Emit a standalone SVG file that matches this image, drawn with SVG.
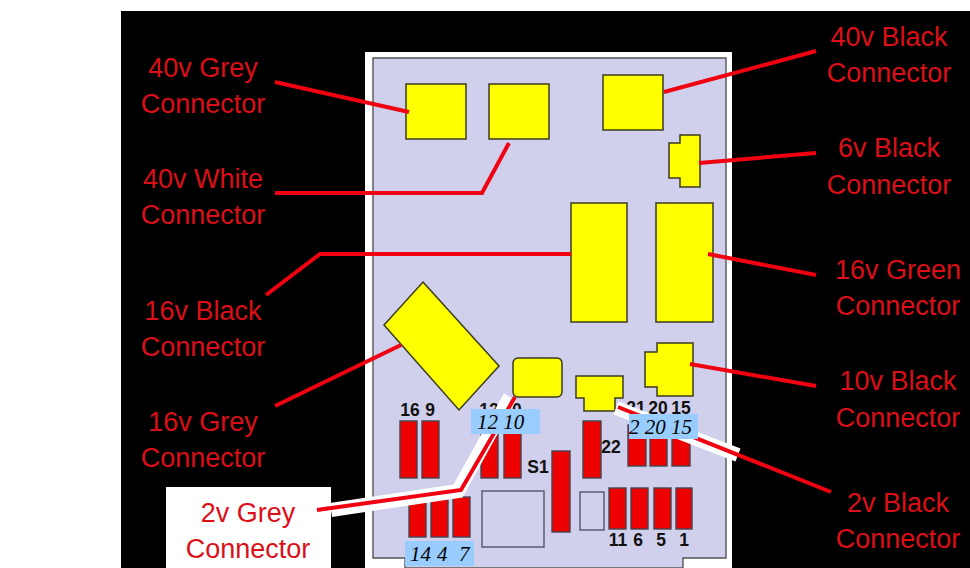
<svg xmlns="http://www.w3.org/2000/svg" width="970" height="568" viewBox="0 0 970 568">
<style>
.lbl{font:27px "Liberation Sans",Arial,sans-serif;fill:#dc0f18;text-anchor:middle}
.yel{fill:#ffff00;stroke:#3a3a20;stroke-width:1.5}
.pin{fill:#ee0000;stroke:#44444e;stroke-width:1.4}
.num{font:bold 17.5px "Liberation Sans",Arial,sans-serif;fill:#111;text-anchor:middle}
.it{font:italic 21px "Liberation Serif","Times New Roman",serif;fill:#000}
.box{fill:#99ccff}
.out{fill:none;stroke:#555566;stroke-width:1.4}
.red{fill:none;stroke:#f00010;stroke-width:4;stroke-linejoin:miter}
.halo{fill:none;stroke:#fff;stroke-width:14}
</style>
<rect width="970" height="568" fill="#fff"/>
<rect x="121" y="11" width="849" height="557" fill="#000"/>
<g id="board">
<rect x="365" y="52" width="367" height="516" fill="#fff"/>
<path d="M373 58H726V558H683V568H405V558H373Z" fill="#d0d0ec" stroke="#555" stroke-width="1.4"/>
<rect class="out" x="482" y="491" width="62" height="56"/>
<rect class="out" x="580" y="492" width="24" height="38"/>
</g>
<g id="pins">
<rect class="pin" x="400" y="421" width="17" height="57"/>
<rect class="pin" x="422" y="421" width="17" height="57"/>
<rect class="pin" x="481" y="421" width="17" height="57"/>
<rect class="pin" x="504" y="421" width="17" height="57"/>
<rect class="pin" x="583" y="421" width="18" height="57"/>
<rect class="pin" x="552" y="451" width="18" height="81"/>
<rect class="pin" x="628" y="425" width="18" height="41"/>
<rect class="pin" x="650" y="425" width="17" height="41"/>
<rect class="pin" x="672" y="425" width="18" height="41"/>
<rect class="pin" x="609" y="488" width="17" height="41"/>
<rect class="pin" x="631" y="488" width="17" height="41"/>
<rect class="pin" x="654" y="488" width="17" height="41"/>
<rect class="pin" x="676" y="488" width="16" height="41"/>
<rect class="pin" x="409" y="497" width="17" height="40"/>
<rect class="pin" x="431" y="497" width="17" height="40"/>
<rect class="pin" x="453" y="497" width="17" height="40"/>
</g>
<g id="pin-numbers">
<text class="num" x="410" y="416">16</text>
<text class="num" x="430" y="416">9</text>
<text class="num" x="489" y="416">12</text>
<text class="num" x="512" y="416">10</text>
<text class="num" x="611" y="453">22</text>
<text class="num" x="538" y="473">S1</text>
<text class="num" x="636" y="414">21</text>
<text class="num" x="658" y="414">20</text>
<text class="num" x="681" y="414">15</text>
<text class="num" x="618" y="546">11</text>
<text class="num" x="638" y="546">6</text>
<text class="num" x="661" y="546">5</text>
<text class="num" x="684" y="546">1</text>
</g>
<g id="conn-40v-grey"><rect class="yel" x="406" y="84" width="60" height="55"/></g>
<g id="conn-40v-white"><rect class="yel" x="489" y="84" width="60" height="55"/></g>
<g id="conn-40v-black"><rect class="yel" x="603" y="75" width="60" height="55"/></g>
<g id="conn-6v-black"><polygon class="yel" points="680,135 700,135 700,187 680,187 680,178 669,178 669,143 680,143"/></g>
<g id="conn-16v-black"><rect class="yel" x="571" y="203" width="56" height="119"/></g>
<g id="conn-16v-green"><rect class="yel" x="656" y="203" width="57" height="119"/></g>
<g id="conn-16v-grey"><polygon class="yel" points="423,282 499,366 459,410 384,325"/></g>
<g id="conn-2v-grey"><rect class="yel" x="513" y="358" width="49" height="39" rx="5"/></g>
<g id="conn-2v-black"><polygon class="yel" points="576,376 623,376 623,398 615,398 615,411 584,411 584,398 576,398"/></g>
<g id="conn-10v-black"><polygon class="yel" points="657,343 693,343 693,396 657,396 657,387 645,387 645,352 657,352"/></g>
<g id="connectors">
<polyline class="halo" points="331,510 458,491 510,397"/>
<polyline class="halo" points="616,408 738,455"/>
<polyline class="red" points="275,82 409,112"/>
<polyline class="red" points="275,193 482,193 509,143"/>
<polyline class="red" points="266,295 320,254 571,254"/>
<polyline class="red" points="275,406 401,345"/>
<polyline class="red" points="317,510 461,490 515,397"/>
<polyline class="red" points="618,407 831,492"/>
<polyline class="red" points="664,92 816,51"/>
<polyline class="red" points="699,163 816,153"/>
<polyline class="red" points="708,254 816,275"/>
<polyline class="red" points="690,364 816,386"/>
</g>
<g id="pin-labels">
<rect class="box" x="471" y="409" width="69" height="25"/>
<text class="it" x="477" y="429" xml:space="preserve">12 10</text>
<rect class="box" x="629" y="414" width="69" height="25"/>
<text class="it" x="629" y="434" xml:space="preserve">2 20 15</text>
<rect class="box" x="405" y="541" width="69" height="25"/>
<text class="it" y="561"><tspan x="410">14</tspan><tspan x="437">4</tspan><tspan x="459">7</tspan></text>
</g>
<g id="labels">
<text class="lbl" x="203" y="77">40v Grey</text><text class="lbl" x="203" y="113">Connector</text>
<text class="lbl" x="203" y="188">40v White</text><text class="lbl" x="203" y="224">Connector</text>
<text class="lbl" x="203" y="320">16v Black</text><text class="lbl" x="203" y="356">Connector</text>
<text class="lbl" x="203" y="431">16v Grey</text><text class="lbl" x="203" y="467">Connector</text>
<rect x="166" y="487" width="165" height="81" fill="#fff"/>
<polyline class="red" points="317,510 331,508"/>
<text class="lbl" x="248" y="522">2v Grey</text><text class="lbl" x="248" y="558">Connector</text>
<text class="lbl" x="889" y="46">40v Black</text><text class="lbl" x="889" y="82">Connector</text>
<text class="lbl" x="889" y="157">6v Black</text><text class="lbl" x="889" y="194">Connector</text>
<text class="lbl" x="898" y="279">16v Green</text><text class="lbl" x="898" y="315">Connector</text>
<text class="lbl" x="898" y="390">10v Black</text><text class="lbl" x="898" y="427">Connector</text>
<text class="lbl" x="898" y="512">2v Black</text><text class="lbl" x="898" y="548">Connector</text>
</g>
</svg>
